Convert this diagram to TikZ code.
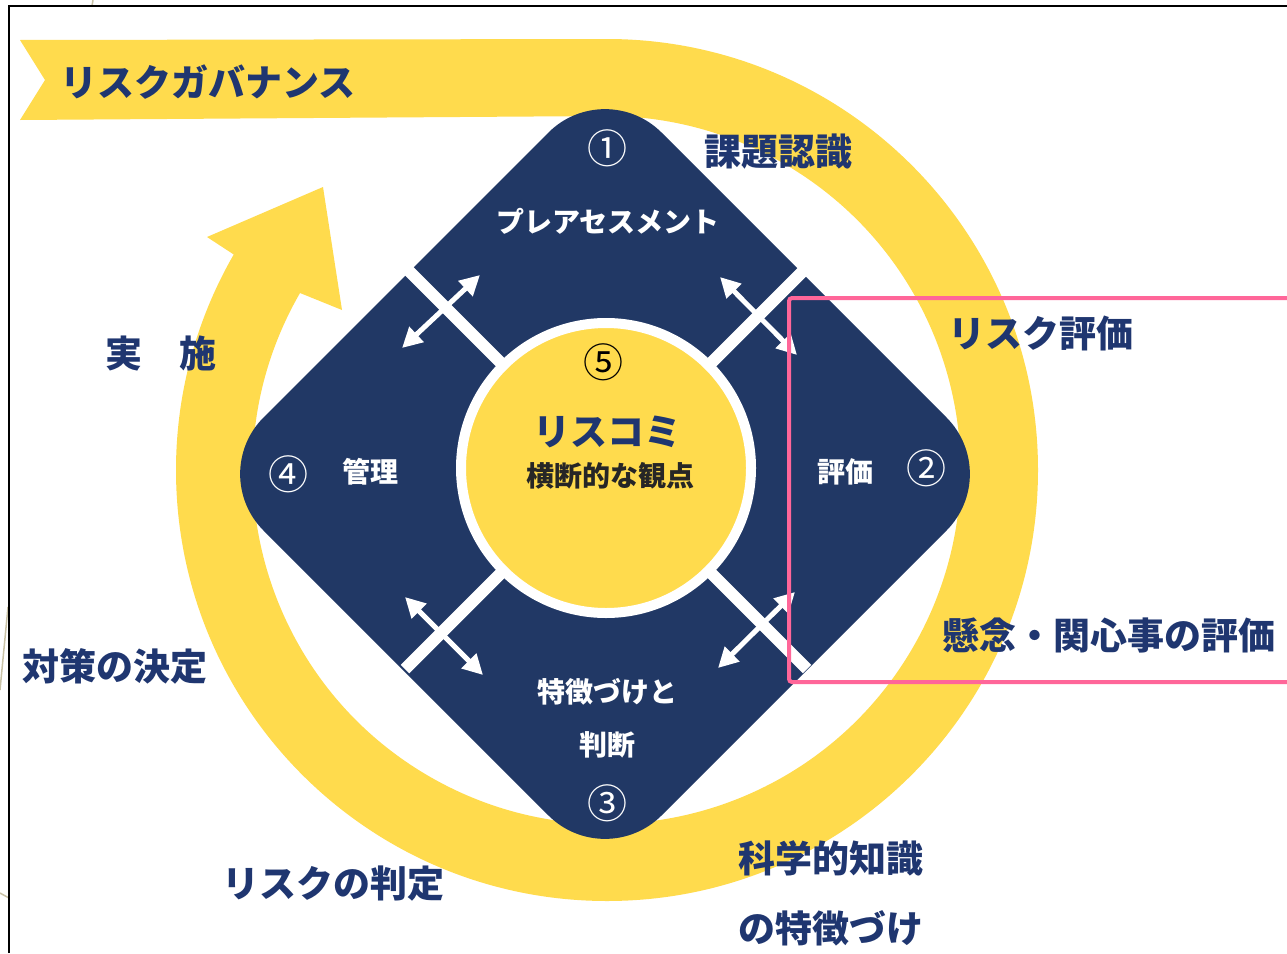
\documentclass[tikz,border=0pt]{standalone}
\usepackage{fontspec}
\setmainfont{Noto Sans CJK JP}
\newfontfamily\jp{Noto Sans CJK JP}
\usetikzlibrary{arrows.meta}
\definecolor{navy}{HTML}{213865}
\definecolor{ylw}{HTML}{FFDB4D}
\definecolor{lbl}{HTML}{1F3670}
\definecolor{pinkbox}{HTML}{FF6699}
\definecolor{tanline}{HTML}{C9C2A6}
\tikzset{
  lab/.style={text=lbl, font=\jp\bfseries\fontsize{37}{40}\selectfont, inner sep=0pt},
  inlab/.style={text=white, font=\jp\bfseries\fontsize{28}{30}\selectfont, inner sep=0pt},
  num/.style={font=\jp\fontsize{40}{42}\selectfont, inner sep=0pt},
  dbl/.style={white, line width=5pt, {Triangle[length=20pt,width=20pt]}-{Triangle[length=20pt,width=20pt]}},
  divider/.style={white, line width=12pt},
}
\begin{document}
\begin{tikzpicture}[x=1pt,y=-1pt]
\useasboundingbox (0,0) rectangle (1287,953);
\fill[white] (0,0) rectangle (1287,953);
% background slide decoration
\draw[tanline, line width=1.5pt] (93,0) -- (92,6);
\draw[tanline, line width=1.5pt] (0,690) -- (8,607);
\draw[tanline, line width=1.5pt] (0,893) -- (9,898);
% frame
\draw[black, line width=2pt] (9,953) -- (9,6) -- (1287,6);
% yellow governance band with arrowhead
\fill[ylw] (20,40) -- (607,39) arc[start angle=-90, end angle=210, radius=431]
  -- (207,237) -- (323,187) -- (342,310) -- (300,293)
  arc[start angle=210, end angle=-90, radius=354]
  -- (20,120) -- (45,80) -- cycle;
% diamond
\fill[navy, rounded corners=80pt] (605,76) -- (1003,474) -- (605,872) -- (207,474) -- cycle;
% dividers
\coordinate (c) at (606,468);
\draw[divider] (c) -- (405,267);
\draw[divider] (c) -- (807,267);
\draw[divider] (c) -- (405,669);
\draw[divider] (c) -- (807,669);
% central circle
\node[circle, fill=ylw, draw=white, line width=10pt, minimum size=290pt, inner sep=0pt] (hub) at (c) {};
% double arrows
\coordinate (tla) at (402,348); \coordinate (tlb) at (480,275);
\coordinate (tra) at (720,277); \coordinate (trb) at (797,355);
\coordinate (bla) at (405,597); \coordinate (blb) at (483,675);
\coordinate (bra) at (795,592); \coordinate (brb) at (718,668);
\draw[dbl] (tla) -- (tlb);
\draw[dbl] (tra) -- (trb);
\draw[dbl] (bla) -- (blb);
\draw[dbl] (bra) -- (brb);
% outer labels
\node[lab, anchor=west] (gov) at (60,82) {リスクガバナンス};
\node[lab] (kadai) at (778,152) {課題認識};
\node[lab, anchor=west] (rhyoka) at (948,333) {リスク評価};
\node[lab, anchor=west] (kenen) at (942,635) {懸念・関心事の評価};
\node[lab, anchor=west] (kagaku) at (738,858) {科学的知識};
\node[lab, anchor=west] (tokucho) at (738,928) {の特徴づけ};
\node[lab, anchor=west] (hantei) at (222,884) {リスクの判定};
\node[lab, anchor=west] (taisaku) at (22,666) {対策の決定};
\node[lab, anchor=west] (jisshi) at (105,353) {実　施};
% inner labels
\node[num, text=white] (n1) at (607,148) {①};
\node[inlab] (pre) at (608,221) {プレアセスメント};
\node[num, text=black] (n5) at (603,362) {⑤};
\node[text=lbl, font=\jp\bfseries\fontsize{37}{40}\selectfont, inner sep=0pt] (riscomi) at (607,432) {リスコミ};
\node[inlab, text=black!85] (oudan) at (610,476) {横断的な観点};
\node[num, text=white] (n4) at (288,474) {④};
\node[inlab] (kanri) at (370,472) {管理};
\node[inlab] (hyoka) at (845,472) {評価};
\node[num, text=white] (n2) at (926,468) {②};
\node[inlab] (toku) at (607,692) {特徴づけと};
\node[inlab] (handan) at (607,745) {判断};
\node[num, text=white] (n3) at (607,803) {③};
% highlight box
\draw[pinkbox, line width=4pt, rounded corners=3pt] (1300,298) -- (789,298) -- (789,682) -- (1300,682);
\end{tikzpicture}
\end{document}
